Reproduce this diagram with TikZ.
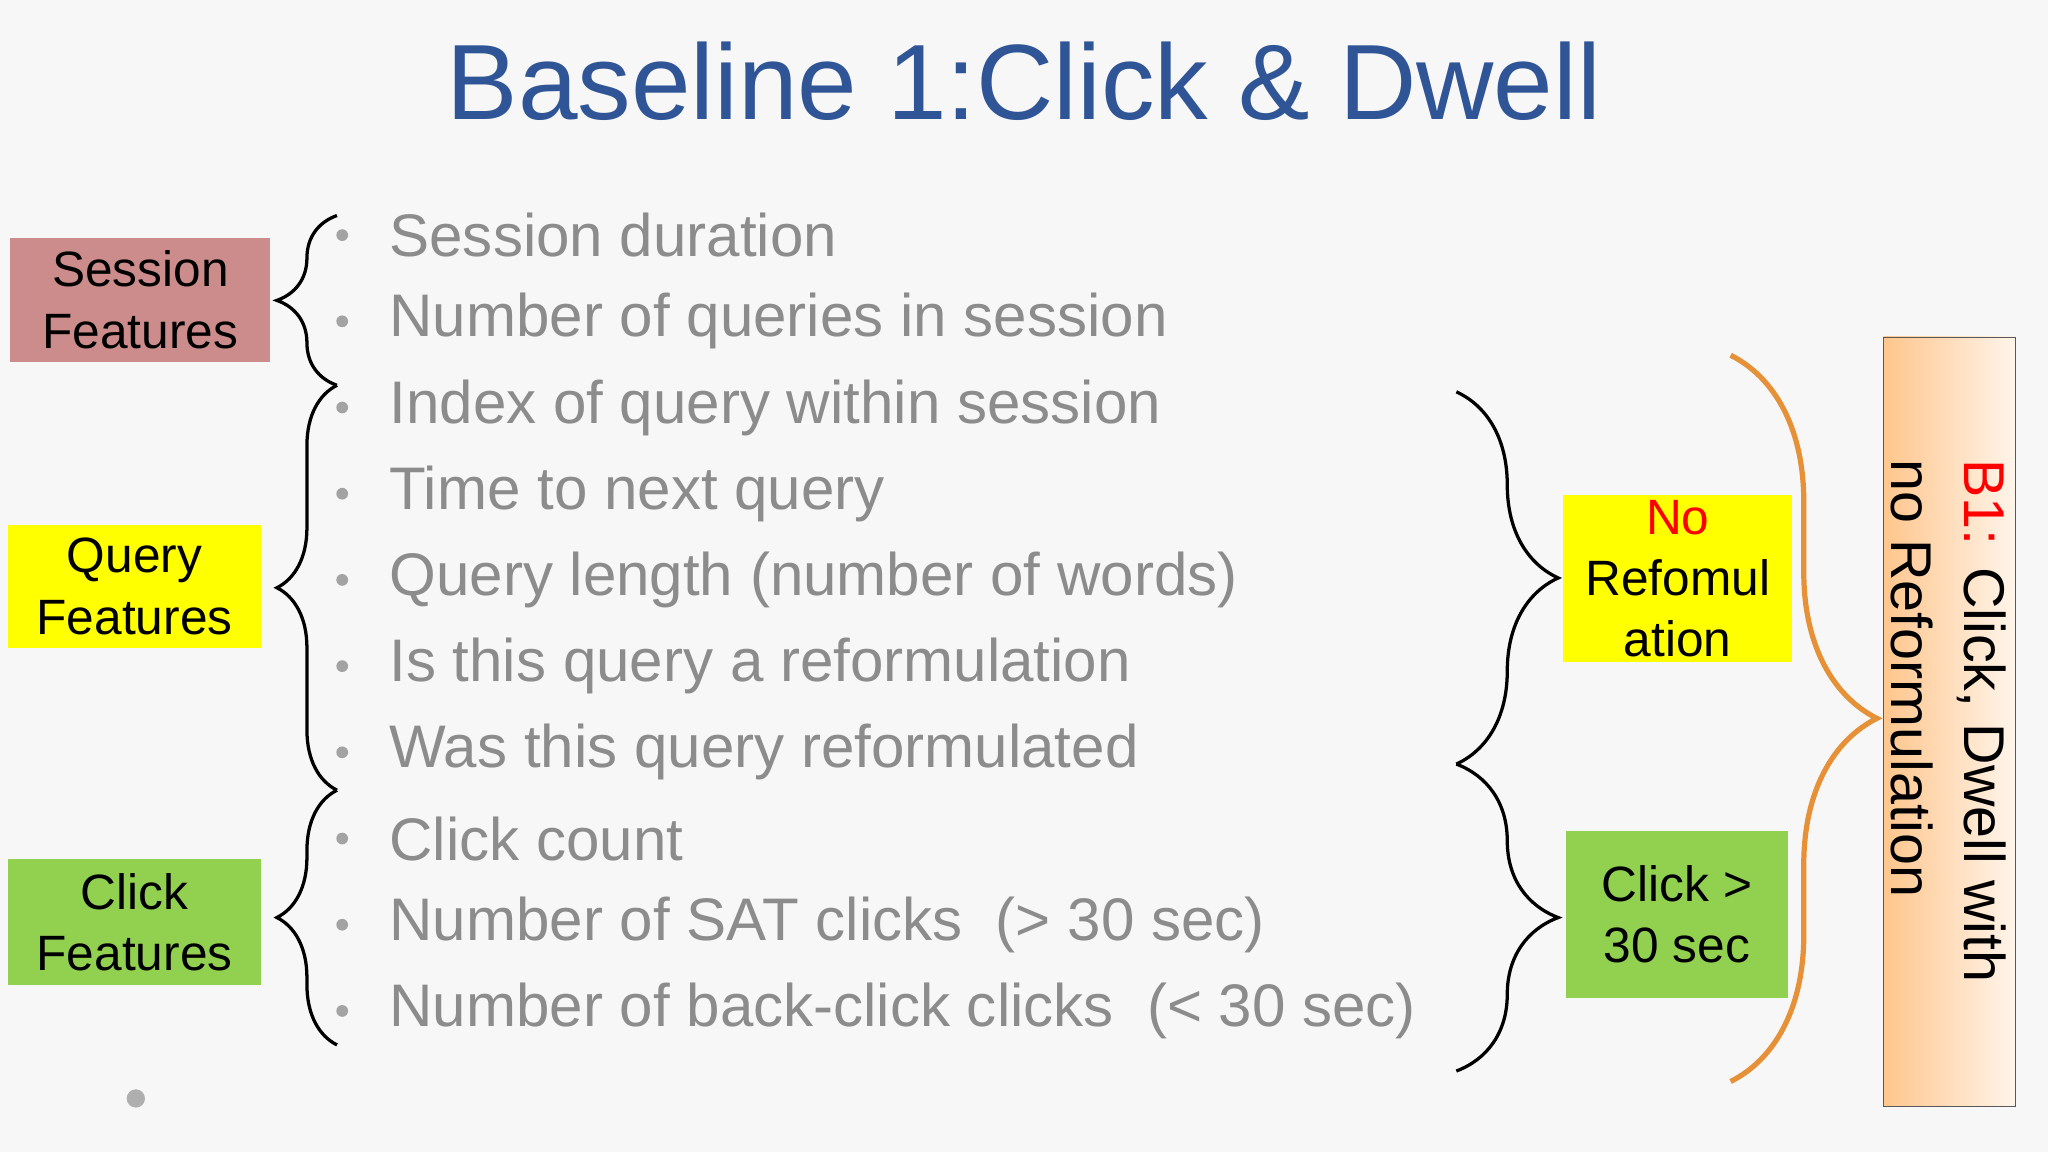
\documentclass[tikz,border=0pt]{standalone}
\usepackage{fontspec}
\setmainfont{Liberation Sans}
\usetikzlibrary{decorations.pathreplacing}
\definecolor{titleblue}{RGB}{47,85,151}
\definecolor{bul}{RGB}{140,140,140}
\definecolor{sess}{RGB}{204,140,140}
\definecolor{yel}{RGB}{255,255,0}
\definecolor{grn}{RGB}{146,208,80}
\definecolor{org}{RGB}{230,145,56}
\begin{document}
\begin{tikzpicture}[x=1pt,y=-1pt,
 bl/.style={anchor=west,text=bul,font=\fontsize{46}{50}\selectfont,inner sep=0},
 dot/.style={circle,fill=bul!80,inner sep=0,minimum size=9pt},
 fbox/.style={draw=none,font=\fontsize{38}{47}\selectfont,align=center,inner sep=0},
 br/.style={decorate,decoration={brace,amplitude=#1},line width=2.5pt,black},
]
\useasboundingbox (0,0) rectangle (1568,882);
\fill[gray!6] (0,0) rectangle (1568,882);
\node (title) at (784,62) {\fontsize{82}{90}\selectfont\color{titleblue}Baseline 1:Click \& Dwell};
\foreach \t [count=\i] in {Session duration,Number of queries in session,Index of query within session,Time to next query,Query length (number of words),Is this query a reformulation,Was this query reformulated,Click count,Number of SAT clicks\ \ (> 30 sec),Number of back-click clicks\ \ (< 30 sec)}{
 \node[dot] (d\i) at (262,114+66*\i) {};
 \node[bl] (t\i) at (298,114+66*\i) {\t};
}
\fill[sess] (8,182) rectangle (207,277);
\node[fbox] (sf) at (107.5,229.5) {Session\\Features};
\fill[yel] (6,402) rectangle (200,496);
\node[fbox] (qf) at (103,449) {Query\\Features};
\fill[grn] (6,658) rectangle (200,754);
\node[fbox] (cf) at (103,706) {Click\\Features};
\draw[br=46pt] (258,295) -- (258,165);
\draw[br=46pt] (258,605) -- (258,295);
\draw[br=46pt] (258,800) -- (258,605);
\draw[br=78pt] (1115,300) -- (1115,585);
\draw[br=78pt] (1115,585) -- (1115,820);
\draw[decorate,decoration={brace,amplitude=112pt},line width=4pt,org] (1325,272) -- (1325,828);
\fill[yel] (1197,379) rectangle (1372,507);
\node[fbox] (nr) at (1284.5,443) {\color{red}No\\Refomul\\ation};
\fill[grn] (1199,636) rectangle (1369,764);
\node[fbox] (cs) at (1284,700) {Click >\\30 sec};
\shade[left color=orange!45!white,right color=orange!8!white,draw=gray!70!black] (1442,258) rectangle (1543,847);
\node[rotate=-90,font=\fontsize{44}{56}\selectfont,align=left] (b1) at (1492,552) {\textcolor{red}{B1:} Click, Dwell with\\no Reformulation};
\node[circle,fill=bul!70,inner sep=0,minimum width=14pt,minimum height=10pt] (sd) at (104,841) {};
\end{tikzpicture}
\end{document}
